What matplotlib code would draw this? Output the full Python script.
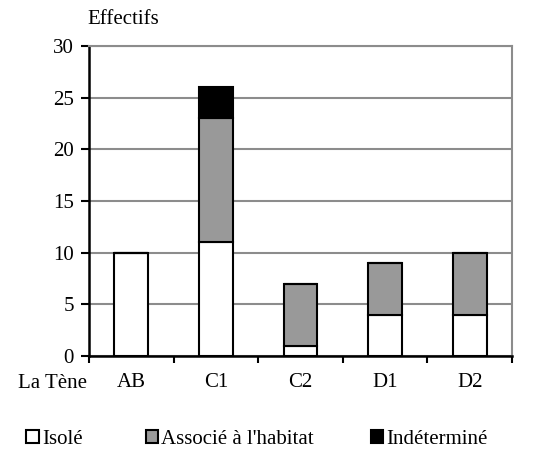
import matplotlib.pyplot as plt
import numpy as np
from matplotlib.patches import Patch

plt.rcParams['font.family'] = ['Liberation Serif', 'DejaVu Serif']
plt.rcParams['font.size'] = 15

# Data
periods = ['AB', 'C1', 'C2', 'D1', 'D2']
isole = [10, 11, 1, 4, 4]
associe = [0, 12, 6, 5, 6]
indetermine = [0, 3, 0, 0, 0]
labels = ['Isolé', "Associé à l'habitat", 'Indéterminé']
colors = ['white', '#999999', 'black']

fig = plt.figure(figsize=(5.37, 4.51), dpi=100)
ax = fig.add_axes([0.1657, 0.2106, 0.7877, 0.6874])

x = np.arange(len(periods))
bottom = np.zeros(len(periods))
for vals, c in zip([isole, associe, indetermine], colors):
    vals = np.array(vals, dtype=float)
    ax.bar(x, vals, width=0.4, bottom=bottom, color=c, edgecolor='black',
           linewidth=1.5, zorder=3)
    bottom += vals

ax.set_xlim(-0.5, len(periods) - 0.5)
ax.set_ylim(0, 30)
ax.set_yticks(range(0, 31, 5))
ax.yaxis.grid(True, color='#8c8c8c', linewidth=1.5, zorder=0)
ax.set_xticks(np.arange(-0.5, len(periods), 1.0))
ax.set_xticklabels([])
ax.set_xticks(x, minor=True)
ax.set_xticklabels(periods, minor=True)
ax.tick_params(axis='x', which='minor', length=0, pad=12)
ax.tick_params(axis='x', which='major', length=5, width=1.5, direction='out')
ax.tick_params(axis='y', length=6, width=1.5, direction='out', pad=5)

for s in ['left', 'bottom']:
    ax.spines[s].set_color('black')
    ax.spines[s].set_linewidth(1.8)
for s in ['top', 'right']:
    ax.spines[s].set_color('#8c8c8c')
    ax.spines[s].set_linewidth(1.5)

fig.text(0.163, 0.957, 'Effectifs', ha='left', va='center')
fig.text(0.033, 0.149, 'La Tène', ha='left', va='center')

# legend entries placed individually along the bottom
legend_x = [0.049, 0.271, 0.690]
for lab, c, lx in zip(labels, colors, legend_x):
    h = Patch(facecolor=c, edgecolor='black', linewidth=1.5)
    fig.legend([h], [lab], loc='center left', bbox_to_anchor=(lx, 0.025),
               frameon=False, handlelength=0.6, handleheight=0.6,
               handletextpad=0.15, borderaxespad=0, borderpad=0)

fig.savefig('out.png', dpi=100)
